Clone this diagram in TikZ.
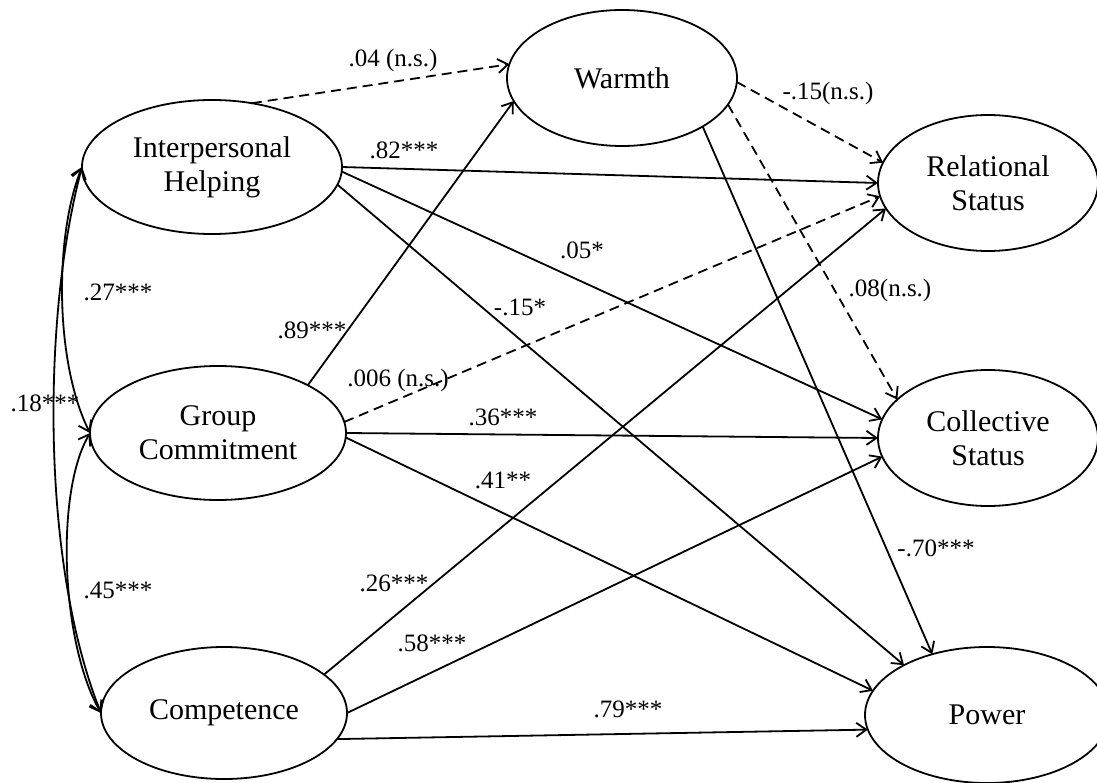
\documentclass[tikz,border=0pt]{standalone}
\usepackage{fontspec}
\setmainfont{Liberation Serif}
\usetikzlibrary{shapes.geometric,arrows.meta}
\tikzset{
  latent/.style={ellipse, draw, line width=1.8pt, inner sep=0pt, outer sep=0pt,
    align=center, font=\fontsize{30}{34}\selectfont},
  effect/.style={-{Straight Barb[length=10pt,width=14pt]}, line width=1.8pt},
  nsig/.style={effect, dash pattern=on 10pt off 6pt},
  covar/.style={{Straight Barb[length=10pt,width=14pt]}-{Straight Barb[length=10pt,width=14pt]}, line width=1.8pt},
  coef/.style={font=\fontsize{25}{28}\selectfont, inner sep=0pt}
}
\begin{document}
\begin{tikzpicture}[x=1pt,y=-1pt]
\useasboundingbox (0,0) rectangle (1097,783);
% latent variables
\node[latent, minimum width=260pt, minimum height=134pt] (IH) at (212,167) {Interpersonal\\Helping};
\node[latent, minimum width=256pt, minimum height=134pt] (GC) at (218,433) {Group\\Commitment};
\node[latent, minimum width=246pt, minimum height=132pt] (CO) at (224,713) {Competence};
\node[latent, minimum width=230pt, minimum height=136pt] (WA) at (622,78) {Warmth};
\node[latent, minimum width=220pt, minimum height=136pt] (RS) at (988,183) {Relational\\Status};
\node[latent, minimum width=220pt, minimum height=136pt] (CS) at (988,438) {Collective\\Status};
\node[latent, minimum width=244pt, minimum height=136pt] (PO) at (987,715) {Power};

% paths
\draw[nsig]   (IH.58)  -- (WA.173);
\draw[effect] (IH.0)   -- (RS.180);
\draw[effect] (IH.-2)  -- (CS.170);
\draw[effect] (IH.-8)  -- (PO.149);
\draw[nsig]   (WA.-2)  -- (RS.169);
\draw[nsig]   (WA.-14) -- (CS.157);
\draw[effect] (WA.-31) -- (PO.132);
\draw[effect] (GC.28)  -- (WA.192);
\draw[nsig]   (GC.5)   -- (RS.187);
\draw[effect] (GC.0)   -- (CS.180);
\draw[effect] (GC.-2)  -- (PO.168);
\draw[effect] (CO.21)  -- (RS.194);
\draw[effect] (CO.0)   -- (CS.190);
\draw[effect] (CO.-13) -- (PO.187);

% covariances
\draw[covar] (IH.west) .. controls +(-28,70) and +(-35,-70) .. (GC.west);
\draw[covar] (IH.west) .. controls +(-40,150) and +(-60,-150) .. (CO.west);
\draw[covar] (GC.west) .. controls +(-35,60) and +(-40,-70) .. (CO.west);

% coefficients
\node[coef] (l1)  at (393,60)  {.04 (n.s.)};
\node[coef] (l2)  at (404,150) {.82***};
\node[coef] (l3)  at (582,250) {.05*};
\node[coef] (l4)  at (520,307) {-.15*};
\node[coef] (l5)  at (312,330) {.89***};
\node[coef] (l6)  at (398,380) {.006 (n.s.)};
\node[coef] (l7)  at (503,417) {.36***};
\node[coef] (l8)  at (503,480) {.41**};
\node[coef] (l9)  at (394,583) {.26***};
\node[coef] (l10) at (432,643) {.58***};
\node[coef] (l11) at (628,709) {.79***};
\node[coef] (l12) at (936,548) {-.70***};
\node[coef] (l13) at (828,93)  {-.15(n.s.)};
\node[coef] (l14) at (890,290) {.08(n.s.)};
\node[coef] (l15) at (118,292) {.27***};
\node[coef] (l16) at (45,403)  {.18***};
\node[coef] (l17) at (118,590) {.45***};
\end{tikzpicture}
\end{document}
